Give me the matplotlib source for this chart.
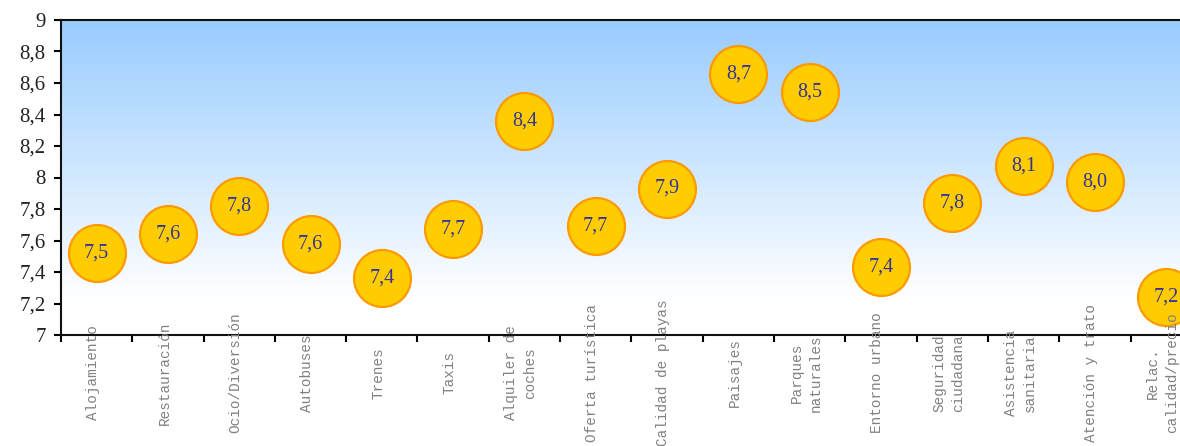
import numpy as np
import matplotlib
matplotlib.use("Agg")
import matplotlib.pyplot as plt
from matplotlib.colors import LinearSegmentedColormap

categories = ["Alojamiento", "Restauración", "Ocio/Diversión", "Autobuses", "Trenes",
              "Taxis", "Alquiler de\ncoches", "Oferta turística", "Calidad de playas",
              "Paisajes", "Parques\nnaturales", "Entorno urbano", "Seguridad\nciudadana",
              "Asistencia\nsanitaria", "Atención y trato", "Relac.\ncalidad/precio"]
values = [7.52, 7.64, 7.82, 7.58, 7.36, 7.67, 8.36, 7.69, 7.93, 8.66, 8.54, 7.43,
          7.84, 8.07, 7.97, 7.24]
value_labels = ["7,5", "7,6", "7,8", "7,6", "7,4", "7,7", "8,4", "7,7", "7,9", "8,7",
                "8,5", "7,4", "7,8", "8,1", "8,0", "7,2"]
yticks = [7.0, 7.2, 7.4, 7.6, 7.8, 8.0, 8.2, 8.4, 8.6, 8.8, 9.0]
ytick_labels = ["7", "7,2", "7,4", "7,6", "7,8", "8", "8,2", "8,4", "8,6", "8,8", "9"]

W, H = 1180, 446
fig = plt.figure(figsize=(W / 100, H / 100), dpi=100)
n = len(categories)
left, right = 61, 61 + 71.3 * n
top, bottom = 20, 335
ax = fig.add_axes([left / W, (H - bottom) / H, (right - left) / W, (bottom - top) / H])

x = np.arange(n)
ax.set_xlim(-0.5, n - 0.5)
ax.set_ylim(7, 9)

# gradient background
cmap = LinearSegmentedColormap.from_list("bg", [(0, "#ffffff"), (0.12, "#ffffff"), (1, "#99ccff")])
grad = np.linspace(0, 1, 256).reshape(-1, 1)
ax.imshow(grad, aspect="auto", cmap=cmap, origin="lower",
          extent=[-0.5, n - 0.5, 7, 9], zorder=0)

ax.scatter(x, values, s=1680, c="#ffcc00", edgecolors="#ff9900", linewidths=1.6, zorder=3,
           clip_on=False)
for xi, v, lab in zip(x, values, value_labels):
    ax.text(xi, v, lab, ha="center", va="center", fontsize=14.5, color="#333399",
            family="Liberation Serif", zorder=4, clip_on=False)

ax.set_yticks(yticks)
ax.set_yticklabels(ytick_labels, family="Liberation Serif", fontsize=15, color="#222222")
ax.tick_params(axis="y", direction="out", length=5, width=1.5, pad=6)

ax.set_xticks(np.arange(-0.5, n, 1.0))
ax.set_xticklabels([])
ax.tick_params(axis="x", direction="out", length=5, width=1.5)

for xi, lab in zip(x, categories):
    ax.text(xi - 0.05, 6.76, lab, rotation=90, ha="center", va="center",
            rotation_mode="anchor", multialignment="center",
            family="Liberation Mono", fontsize=10.4, color="#808080", linespacing=1.45,
            transform=ax.transData, clip_on=False)

for s in ["left", "bottom", "top"]:
    ax.spines[s].set_linewidth(1.5)
    ax.spines[s].set_color("#111111")
ax.spines["right"].set_visible(False)

fig.savefig("out.png", dpi=100)
